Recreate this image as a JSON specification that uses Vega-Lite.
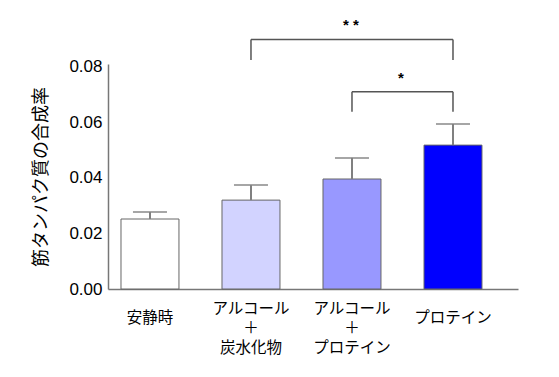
{
  "$schema": "https://vega.github.io/schema/vega-lite/v6.json",
  "width": 410,
  "height": 225,
  "autosize": {"type": "none"},
  "padding": {"left": 108, "top": 64, "right": 41, "bottom": 88},
  "background": "white",
  "config": {
    "view": {"stroke": null},
    "font": "Liberation Sans"
  },
  "datasets": {
    "bars": [
      {"cat": "安静時", "value": 0.0252, "err": 0.0277},
      {"cat": "アルコール+炭水化物", "value": 0.0320, "err": 0.0374},
      {"cat": "アルコール+プロテイン", "value": 0.0396, "err": 0.0472},
      {"cat": "プロテイン", "value": 0.0518, "err": 0.0594}
    ],
    "brackets": [
      {"from": "アルコール+炭水化物", "to": "プロテイン", "top": 0.0898, "low": 0.0824, "label": "**", "at": "アルコール+プロテイン", "star": 0.0950},
      {"from": "アルコール+プロテイン", "to": "プロテイン", "top": 0.0710, "low": 0.0638, "label": "*", "at": "アルコール+プロテイン", "star": 0.0760}
    ]
  },
  "layer": [
    {
      "data": {"name": "bars"},
      "mark": {"type": "bar", "stroke": "#666666", "strokeWidth": 1},
      "encoding": {
        "x": {
          "field": "cat", "type": "nominal",
          "scale": {
            "domain": ["安静時", "アルコール+炭水化物", "アルコール+プロテイン", "プロテイン"],
            "paddingInner": 0.426, "paddingOuter": 0.2426, "align": 0.265
          },
          "axis": {
            "title": null,
            "domainColor": "#777777", "domainWidth": 1.5,
            "ticks": false, "labelAngle": 0,
            "labelFont": "Noto Sans CJK JP", "labelFontSize": 15.5, "labelColor": "#000000",
            "labelBaseline": "middle", "labelLineHeight": 19.5,
            "labelPadding": {"condition": {"test": "indexof(datum.value, '+') >= 0", "value": 19}, "value": 28},
            "labelExpr": "indexof(datum.label, '+') >= 0 ? [split(datum.label, '+')[0], '＋', split(datum.label, '+')[1]] : datum.label"
          }
        },
        "y": {
          "field": "value", "type": "quantitative",
          "scale": {"domain": [0, 0.081], "nice": false, "zero": true},
          "axis": {
            "title": "筋タンパク質の合成率",
            "titleFont": "Noto Sans CJK JP", "titleFontSize": 18, "titleFontWeight": "normal",
            "titleColor": "#000000", "titlePadding": 18,
            "values": [0, 0.02, 0.04, 0.06, 0.08], "format": ".2f",
            "grid": false, "ticks": false,
            "domainColor": "#777777", "domainWidth": 1.5,
            "labelFontSize": 17, "labelColor": "#000000", "labelPadding": 6
          }
        },
        "fill": {
          "field": "cat", "type": "nominal", "legend": null,
          "scale": {
            "domain": ["安静時", "アルコール+炭水化物", "アルコール+プロテイン", "プロテイン"],
            "range": ["#ffffff", "#d2d3ff", "#9898ff", "#0000ff"]
          }
        }
      }
    },
    {
      "data": {"name": "bars"},
      "mark": {"type": "rule", "color": "#808080", "strokeWidth": 2},
      "encoding": {
        "x": {"field": "cat", "type": "nominal"},
        "y": {"field": "value", "type": "quantitative"},
        "y2": {"field": "err"}
      }
    },
    {
      "data": {"name": "bars"},
      "mark": {"type": "tick", "color": "#808080", "size": 34, "thickness": 2},
      "encoding": {
        "x": {"field": "cat", "type": "nominal"},
        "y": {"field": "err", "type": "quantitative"}
      }
    },
    {
      "data": {"name": "brackets"},
      "mark": {"type": "rule", "color": "#555555", "strokeWidth": 1.5},
      "encoding": {
        "x": {"field": "from", "type": "nominal"},
        "x2": {"field": "to"},
        "y": {"field": "top", "type": "quantitative"}
      }
    },
    {
      "data": {"name": "brackets"},
      "mark": {"type": "rule", "color": "#555555", "strokeWidth": 1.5},
      "encoding": {
        "x": {"field": "from", "type": "nominal"},
        "y": {"field": "low", "type": "quantitative"},
        "y2": {"field": "top"}
      }
    },
    {
      "data": {"name": "brackets"},
      "mark": {"type": "rule", "color": "#555555", "strokeWidth": 1.5},
      "encoding": {
        "x": {"field": "to", "type": "nominal"},
        "y": {"field": "low", "type": "quantitative"},
        "y2": {"field": "top"}
      }
    },
    {
      "data": {"name": "brackets"},
      "transform": [{"filter": "datum.label == '**'"}],
      "mark": {"type": "text", "text": "*  *", "fontSize": 15, "fontWeight": "bold", "color": "#000000", "baseline": "middle", "dx": -1},
      "encoding": {
        "x": {"field": "at", "type": "nominal"},
        "y": {"field": "star", "type": "quantitative"}
      }
    },
    {
      "data": {"name": "brackets"},
      "transform": [{"filter": "datum.label == '*'"}],
      "mark": {"type": "text", "text": "*", "fontSize": 15, "fontWeight": "bold", "color": "#000000", "baseline": "middle", "dx": 49},
      "encoding": {
        "x": {"field": "at", "type": "nominal"},
        "y": {"field": "star", "type": "quantitative"}
      }
    }
  ]
}
